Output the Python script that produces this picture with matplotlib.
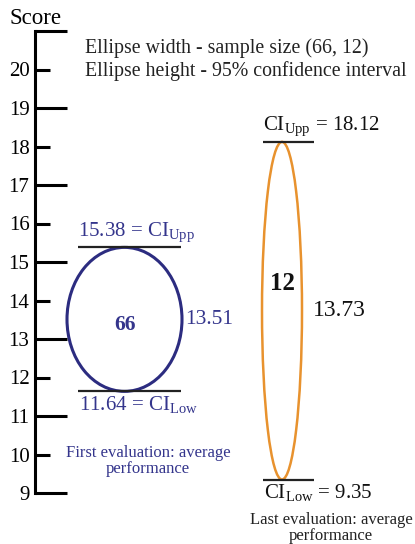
import matplotlib.pyplot as plt
from matplotlib.patches import Ellipse

plt.rcParams['font.family'] = 'Liberation Serif'
plt.rcParams['mathtext.fontset'] = 'custom'
plt.rcParams['mathtext.rm'] = 'Liberation Serif'

# Data: two evaluations, sample size and 95% confidence interval
groups = ['First evaluation: average\nperformance', 'Last evaluation: average\nperformance']
sample_size = [66, 12]
ci_low = [11.64, 9.35]
ci_upp = [15.38, 18.12]
mean_score = [13.51, 13.73]

long_ticks = [9, 11, 13, 15, 17, 19, 21]
short_ticks = [10, 12, 14, 16, 18, 20]

# Layout (x in pixel-like units) and styles
centers_x = [124.5, 282]
widths = [115, 40]
line_x = [(78, 181), (263, 314)]
edge_colors = ['#2c2c80', '#e8922e']
edge_widths = [2.2, 1.8]
text_colors = ['#34358c', '#111111']
count_sizes = [15.5, 18]
count_offset = [-4, 20]
mean_sizes = [15.5, 17]
mean_offset = [2, 8]

fig = plt.figure(figsize=(4.15, 5.44), dpi=100)
ax = fig.add_axes([0, 0, 1, 1])
ax.set_xlim(0, 415)
ax.set_ylim(9 - 51 / 38.5, 9 + 493 / 38.5)

# Score axis
for s in ['top', 'right', 'bottom']:
    ax.spines[s].set_visible(False)
ax.spines['left'].set_position(('data', 35))
ax.spines['left'].set_bounds(9, 21)
ax.spines['left'].set_linewidth(2.2)
ax.set_xticks([])
ax.set_yticks(long_ticks, labels=[str(t) if t < 21 else '' for t in long_ticks])
ax.set_yticks(short_ticks, labels=[str(t) for t in short_ticks], minor=True)
ax.tick_params(axis='y', which='major', direction='in', length=23, width=2.2, pad=4, labelsize=15)
ax.tick_params(axis='y', which='minor', direction='in', length=11, width=2.2, pad=4, labelsize=15)

ax.text(9, 9 + (493 - 18) / 38.5, 'Score', ha='left', va='center', fontsize=16.5)
ax.text(85, 9 + (493 - 48) / 38.5, 'Ellipse width - sample size (66, 12)', ha='left', va='center', fontsize=14.3, color='#222222')
ax.text(85, 9 + (493 - 71) / 38.5, 'Ellipse height - 95% confidence interval', ha='left', va='center', fontsize=14.3, color='#222222')

for i in range(len(groups)):
    cx = centers_x[i]
    low, upp, m = ci_low[i], ci_upp[i], mean_score[i]
    ax.add_patch(Ellipse((cx, (low + upp) / 2), widths[i], upp - low,
                         fill=False, edgecolor=edge_colors[i], linewidth=edge_widths[i]))
    x0, x1 = line_x[i]
    ax.hlines([low, upp], x0, x1, color='#222222', linewidth=1.6)

    if i == 0:
        upp_txt = f'{upp:.2f} = CI$_{{\\mathrm{{Upp}}}}$'
        low_txt = f'{low:.2f} = CI$_{{\\mathrm{{Low}}}}$'
    else:
        upp_txt = f'CI$_{{\\mathrm{{Upp}}}}$ = {upp:.2f}'
        low_txt = f'CI$_{{\\mathrm{{Low}}}}$ = {low:.2f}'
    ax.annotate(upp_txt, (x0, upp), xytext=(0, 2), textcoords='offset points',
                ha='left', va='bottom', fontsize=15, color=text_colors[i])
    ax.annotate(low_txt, (x0 + 1, low), xytext=(0, -2), textcoords='offset points',
                ha='left', va='top', fontsize=15, color=text_colors[i])

    # sample size inside, mean on the right
    ax.annotate(str(sample_size[i]), (cx, m), xytext=(0, count_offset[i]), textcoords='offset points',
                ha='center', va='center', fontsize=count_sizes[i], fontweight='bold', color=text_colors[i])
    ax.annotate(f'{m:.2f}', (cx + widths[i] / 2, m), xytext=(mean_offset[i], 0),
                textcoords='offset points', ha='left', va='center',
                fontsize=mean_sizes[i], color=text_colors[i])

ax.text(148, 9 + (493 - 461) / 38.5, groups[0], ha='center', va='center',
        fontsize=12, color=text_colors[0], linespacing=0.95)
ax.text(331, 9 + (493 - 528) / 38.5, groups[1], ha='center', va='center',
        fontsize=12, color='#222222', linespacing=0.95)

plt.savefig('out.png', dpi=100)
